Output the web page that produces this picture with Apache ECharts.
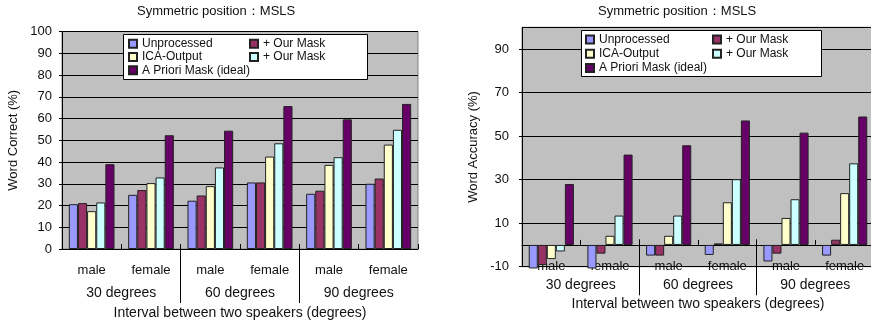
<!DOCTYPE html>
<html>
<head>
<meta charset="utf-8">
<script src="https://cdn.jsdelivr.net/npm/echarts@6/dist/echarts.min.js"></script>
<style>
html,body{margin:0;padding:0;background:#fff;}
#main{width:871px;height:324px;}
</style>
</head>
<body>
<div id="main"></div>
<script>
var categories = ['male', 'female', 'male', 'female', 'male', 'female'];
var groups = ['30 degrees', '60 degrees', '90 degrees'];
var seriesKeys = ['unproc', 'mask1', 'ica', 'mask2', 'ideal'];
var seriesLabels = ['Unprocessed', '+ Our Mask', 'ICA-Output', '+ Our Mask', 'A Priori Mask (ideal)'];
var seriesColors = ['#9999FF', '#993366', '#FFFFCC', '#CCFFFF', '#660066'];

// Word Correct (%)
var correctUnproc = [20.6, 24.9, 22.2, 30.6, 25.4, 30.0];
var correctMask1 = [21.1, 27.1, 24.6, 30.6, 26.8, 32.4];
var correctIca = [17.4, 30.3, 28.9, 42.5, 38.7, 48.0];
var correctMask2 = [21.4, 32.9, 37.5, 48.6, 42.2, 54.8];
var correctIdeal = [39.0, 52.3, 54.4, 65.7, 59.6, 66.7];
var correctAxis = [0, 100, 10]; // min, max, interval

// Word Accuracy (%)
var accUnproc = [-10.8, -10.8, -4.9, -4.6, -7.6, -4.9];
var accMask1 = [-9.2, -4.0, -4.9, 0.7, -4.0, 2.4];
var accIca = [-6.5, 4.2, 4.2, 19.6, 12.4, 23.8];
var accMask2 = [-3.0, 13.5, 13.5, 30.2, 21.0, 37.5];
var accIdeal = [28.0, 41.5, 45.8, 57.2, 51.6, 59.0];
var accAxis = [-10, 100, 20];

var groupSplits = [2, 4]; // category boundaries between degree groups

var FONT = 'Liberation Sans, Arial, sans-serif';
var TXT = '#111';

var msls = {
	labelOf: function(name) {
		return seriesLabels[seriesKeys.indexOf(name)];
	},
	// x axes of one panel: male/female, long group separators, degree labels
	xAxes: function(gridIndex, p) {
		return [{
			type: 'category', gridIndex: gridIndex, data: categories, position: 'bottom',
			axisLine: {onZero: true, lineStyle: {color: '#000', width: 1}},
			axisTick: {show: true, inside: true, length: 5, lineStyle: {color: '#000'}},
			axisLabel: {margin: p.labelMargin, color: TXT, fontSize: 13, fontFamily: FONT},
			splitLine: {show: false}
		}, {
			type: 'value', gridIndex: gridIndex, min: 0, max: categories.length, position: 'bottom',
			offset: p.sepOffset,
			axisLine: {show: false, onZero: false},
			axisTick: {show: true, customValues: groupSplits, length: p.sepLength, lineStyle: {color: '#000'}},
			axisLabel: {show: false},
			splitLine: {show: false}
		}, {
			type: 'category', gridIndex: gridIndex, data: groups, position: 'bottom',
			axisLine: {show: p.bottomLine, onZero: false, lineStyle: {color: '#000'}},
			axisTick: {show: false},
			axisLabel: {margin: p.groupMargin, color: TXT, fontSize: 14, fontFamily: FONT},
			splitLine: {show: false},
			name: 'Interval between two speakers (degrees)', nameLocation: 'middle',
			nameGap: p.nameGap, nameMoveOverlap: false,
			nameTextStyle: {color: TXT, fontSize: 14, fontFamily: FONT}
		}];
	},
	yAxis: function(gridIndex, range, name, p) {
		return {
			type: 'value', gridIndex: gridIndex, min: range[0], max: range[1], interval: range[2],
			name: name, nameLocation: 'middle', nameGap: p.nameGap, nameMoveOverlap: false,
			nameTextStyle: {color: TXT, fontSize: 13, fontFamily: FONT},
			axisLine: {show: true, onZero: false, lineStyle: {color: '#000'}},
			axisTick: {show: true, length: 3, lineStyle: {color: '#000'}},
			axisLabel: {margin: p.labelMargin, color: TXT, fontSize: 13, fontFamily: FONT, showMaxLabel: p.showMax},
			splitLine: {show: true, lineStyle: {color: '#000', width: 1}}
		};
	},
	series: function(axisBase, gridIndex, lists, gap) {
		var out = [];
		for (var i in seriesKeys) {
			out.push({
				name: seriesKeys[i], type: 'bar',
				xAxisIndex: axisBase, yAxisIndex: gridIndex,
				barGap: '0%', barCategoryGap: gap, clip: false,
				data: lists[i],
				itemStyle: {color: seriesColors[i], borderColor: '#222', borderWidth: 1},
				emphasis: {disabled: true}
			});
		}
		return out;
	},
	legends: function(x1, x2, top, lh) {
		var base = {
			orient: 'vertical', top: top, padding: 0, itemGap: 0,
			icon: 'rect', itemWidth: 8, itemHeight: 8, selectedMode: false, z: 10,
			formatter: msls.labelOf,
			textStyle: {color: TXT, fontSize: 12, fontFamily: FONT, lineHeight: lh}
		};
		return [
			echarts.util.extend({left: x1, data: ['unproc', 'ica', 'ideal']}, base),
			echarts.util.extend({left: x2, data: ['mask1', 'mask2']}, base)
		];
	}
};

var chart = echarts.init(document.getElementById('main'), null, {renderer: 'canvas'});

var gridStyle = {show: true, backgroundColor: '#C0C0C0', borderColor: '#808080', borderWidth: 1,
	outerBoundsMode: 'none', containLabel: false};

var option = {
	animation: false,
	title: [{
		text: 'Symmetric position：MSLS', left: 137, top: 5, padding: 0,
		textStyle: {color: TXT, fontSize: 13, fontWeight: 'normal', fontFamily: FONT}
	}, {
		text: 'Symmetric position：MSLS', left: 598, top: 5, padding: 0,
		textStyle: {color: TXT, fontSize: 13, fontWeight: 'normal', fontFamily: FONT}
	}],
	graphic: [
		{type: 'rect', z: 5, shape: {x: 123.5, y: 34.5, width: 244, height: 45}, style: {fill: '#fff', stroke: '#000', lineWidth: 1}},
		{type: 'rect', z: 5, shape: {x: 581.5, y: 30.5, width: 240, height: 46}, style: {fill: '#fff', stroke: '#000', lineWidth: 1}}
	],
	legend: [].concat(
		msls.legends(128, 249, 37, 13.3),
		msls.legends(585, 712, 32.5, 14.2)
	),
	grid: [
		echarts.util.extend({left: 62, top: 31.5, right: 453, bottom: 75}, gridStyle),
		echarts.util.extend({left: 522, top: 27.3, right: -3, bottom: 57.3}, gridStyle)
	],
	xAxis: [].concat(
		msls.xAxes(0, {labelMargin: 15, sepOffset: -5, sepLength: 59, bottomLine: false, groupMargin: 37, nameGap: 57}),
		msls.xAxes(1, {labelMargin: -7, sepOffset: -27.4, sepLength: 56, bottomLine: true, groupMargin: 11, nameGap: 30})
	),
	yAxis: [
		msls.yAxis(0, correctAxis, 'Word Correct (%)', {nameGap: 42, labelMargin: 10, showMax: true}),
		msls.yAxis(1, accAxis, 'Word Accuracy (%)', {nameGap: 42, labelMargin: 13, showMax: false})
	],
	series: [].concat(
		msls.series(0, 0, [correctUnproc, correctMask1, correctIca, correctMask2, correctIdeal], '23%'),
		msls.series(3, 1, [accUnproc, accMask1, accIca, accMask2, accIdeal], '23%')
	)
};
chart.setOption(option);
</script>
</body>
</html>
